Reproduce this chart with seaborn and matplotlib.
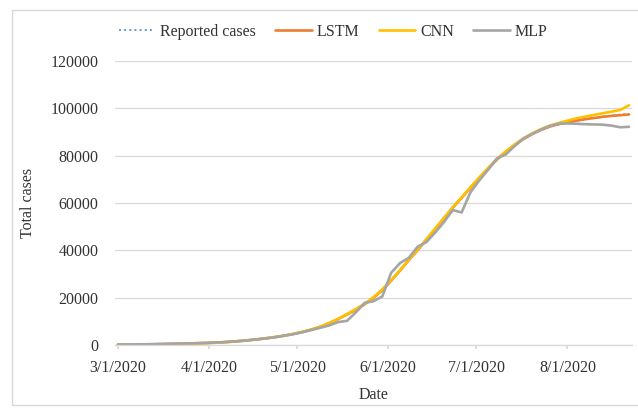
import numpy as np
import pandas as pd
import matplotlib
matplotlib.use("Agg")
import matplotlib.pyplot as plt
import matplotlib.dates as mdates
from matplotlib.patches import Rectangle
import seaborn as sns

# Dates sampled every third day, 3/1/2020 through 8/22/2020
dates = pd.date_range("2020-03-01", "2020-08-22", freq="3D")

reported = [100, 130, 170, 220, 280, 350, 430, 520, 600, 700,
            800, 950, 1150, 1400, 1700, 2050, 2450, 2900, 3400, 4000,
            4700, 5500, 6500, 7700, 9200, 11000, 13000, 15000, 17300, 19800,
            23000, 27000, 31500, 36000, 40000, 44500, 49000, 53500, 58000, 62000,
            66500, 70500, 74500, 78500, 81500, 84500, 87000, 89000, 90800, 92200,
            93200, 94000, 94700, 95300, 95900, 96400, 96900, 97300, 97700]

lstm = [150, 180, 220, 270, 330, 400, 480, 560, 650, 750,
        860, 1000, 1200, 1450, 1750, 2100, 2500, 2950, 3450, 4050,
        4750, 5550, 6550, 7750, 9250, 11000, 12900, 14900, 17200, 19900,
        23200, 27200, 31400, 35800, 40000, 44500, 49000, 53600, 58000, 62200,
        66400, 70500, 74500, 78300, 81500, 84400, 87000, 89100, 90900, 92300,
        93300, 94100, 94800, 95400, 95900, 96400, 96800, 97100, 97400]

cnn = [50, 80, 120, 170, 230, 300, 380, 470, 560, 660,
       770, 920, 1120, 1380, 1700, 2060, 2470, 2930, 3450, 4060,
       4780, 5600, 6600, 7850, 9350, 11100, 13100, 15200, 17500, 20200,
       23500, 27400, 31600, 35900, 40200, 44700, 49200, 53700, 58200, 62400,
       66700, 70800, 74800, 78600, 81800, 84700, 87300, 89400, 91200, 92700,
       93800, 94800, 95700, 96500, 97200, 97900, 98600, 99300, 101300]

mlp = [200, 220, 250, 300, 360, 430, 510, 590, 680, 780,
       880, 1020, 1200, 1430, 1720, 2060, 2450, 2880, 3380, 3980,
       4650, 5450, 6400, 7300, 8300, 9700, 10200, 13800, 17800, 18500,
       20500, 30500, 34600, 36800, 41500, 43500, 47500, 52000, 57000, 56000,
       64500, 69500, 74000, 78800, 80500, 84000, 87200, 89200, 91000, 92500,
       93500, 93600, 93500, 93300, 93200, 93100, 92700, 92000, 92200]

series = {
    "Reported cases": reported,
    "LSTM": lstm,
    "CNN": cnn,
    "MLP": mlp,
}
colors = {
    "Reported cases": "#5B9BD5",
    "LSTM": "#ED7D31",
    "CNN": "#FFC000",
    "MLP": "#A5A5A5",
}
styles = {
    "Reported cases": ":",
    "LSTM": "-",
    "CNN": "-",
    "MLP": "-",
}

y_ticks = [0, 20000, 40000, 60000, 80000, 100000, 120000]
x_ticks = ["2020-03-01", "2020-04-01", "2020-05-01", "2020-06-01",
           "2020-07-01", "2020-08-01"]

sns.set_theme(style="white")
plt.rcParams["font.family"] = ["Liberation Serif", "DejaVu Serif"]
text_color = "#333333"

fig = plt.figure(figsize=(6.38, 4.12), dpi=100)
ax = fig.add_axes([115 / 638, 1 - 345 / 412, (632 - 115) / 638, (345 - 61) / 412])

for name, values in series.items():
    df = pd.DataFrame({"Date": dates, "Total cases": values})
    sns.lineplot(data=df, x="Date", y="Total cases", ax=ax, label=name,
                 color=colors[name], linestyle=styles[name],
                 linewidth=1.9 if name != "Reported cases" else 1.4)

ax.set_ylim(0, 120000)
ax.set_yticks(y_ticks)
ax.set_yticklabels([str(v) for v in y_ticks])
ax.set_xlim(pd.Timestamp("2020-02-29"), pd.Timestamp("2020-08-23"))
ax.set_xticks(pd.to_datetime(x_ticks))
ax.xaxis.set_major_formatter(mdates.DateFormatter("%-m/%-d/%Y"))

ax.grid(axis="y", color="#D9D9D9", linewidth=0.9)
ax.grid(axis="x", visible=False)
for side in ["top", "right", "left"]:
    ax.spines[side].set_visible(False)
ax.spines["bottom"].set_color("#D9D9D9")
ax.spines["bottom"].set_linewidth(0.9)

ax.tick_params(axis="y", length=0, pad=12, labelsize=11.5, labelcolor=text_color)
ax.tick_params(axis="x", length=3, color="#D9D9D9", pad=8, labelsize=11.5,
               labelcolor=text_color, bottom=True)

ax.set_xlabel("Date", fontsize=11.5, color=text_color, labelpad=8)
ax.set_ylabel("Total cases", fontsize=11.5, color=text_color, labelpad=10)

ax.get_legend().remove()
handles, labels = ax.get_legend_handles_labels()
fig.legend(handles, labels, loc="center", ncol=4, frameon=False,
           bbox_to_anchor=(333 / 638, 1 - 32 / 412), fontsize=11.5,
           handlelength=2.3, handletextpad=0.3, columnspacing=1.2,
           labelcolor=text_color)

# Chart-area border
fig.patches.append(Rectangle((12 / 638, 1 - 405 / 412), 1.0, (405 - 10) / 412,
                             transform=fig.transFigure, fill=False,
                             edgecolor="#D9D9D9", linewidth=1.0))

fig.savefig("out.png", dpi=100, facecolor="white")
